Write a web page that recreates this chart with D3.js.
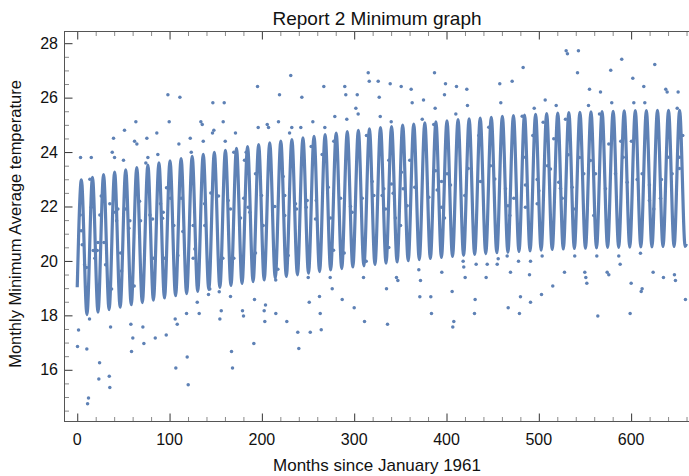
<!DOCTYPE html>
<html lang="en">

<head>
  <meta charset="utf-8">
  <title>Report 2 Minimum graph</title>
  <script src="https://d3js.org/d3.v7.min.js"></script>
  <style type="text/css">
    body { margin: 0; background: #fff; }
    text { font-family: "Liberation Sans", Arial, sans-serif; fill: #111; }
  </style>
</head>

<body>
  <script type="text/javascript">
    // fitted curve: one peak and one trough per year
    var firstPeakMonth = 4.5;
    var firstTroughMonth = 10.5;
    var cycle = 12;
    var curveStart = [0, 19.03];
    var curveEnd = [660, 20.62];

    var peakTemps = [22.98, 23.07, 23.17, 23.26, 23.35, 23.43, 23.52, 23.60, 23.68, 23.76,
      23.84, 23.92, 23.99, 24.06, 24.14, 24.20, 24.27, 24.34, 24.40, 24.46,
      24.52, 24.58, 24.64, 24.70, 24.75, 24.80, 24.85, 24.90, 24.94, 24.99,
      25.03, 25.07, 25.11, 25.15, 25.19, 25.22, 25.25, 25.28, 25.31, 25.34,
      25.36, 25.39, 25.41, 25.43, 25.45, 25.46, 25.48, 25.49, 25.50, 25.51,
      25.52, 25.52, 25.53, 25.53, 25.53];

    var troughTemps = [18.03, 18.12, 18.21, 18.30, 18.39, 18.47, 18.56, 18.64, 18.72, 18.80,
      18.88, 18.95, 19.03, 19.10, 19.17, 19.24, 19.30, 19.37, 19.43, 19.49,
      19.55, 19.61, 19.67, 19.72, 19.78, 19.82, 19.87, 19.92, 19.96, 20.01,
      20.05, 20.09, 20.13, 20.17, 20.20, 20.24, 20.27, 20.30, 20.32, 20.35,
      20.37, 20.40, 20.42, 20.44, 20.46, 20.47, 20.48, 20.50, 20.50, 20.51,
      20.52, 20.52, 20.53, 20.53, 20.53];

    // observed monthly minimum averages that show outside the fitted line [month, temp]
    var observed = [
      [3.6, 23.80], [15.2, 23.80], [98.2, 26.11], [111.2, 26.01], [146.9, 25.81], [63.5, 25.11], [99.6, 25.11], [133.9, 25.11],
      [135.4, 25.01], [51.2, 24.80], [86.2, 24.70], [148.0, 24.80], [146.5, 24.70], [39.3, 24.51], [75.4, 24.51], [122.4, 24.51],
      [62.1, 24.40], [64.6, 24.30], [110.1, 24.30], [136.5, 24.40], [37.9, 23.99], [40.4, 23.80], [50.1, 23.70], [76.5, 23.80],
      [74.3, 23.60], [87.3, 23.91], [123.5, 23.99], [13.7, 23.00], [96.7, 22.69], [101.0, 22.30], [26.0, 22.39], [144.7, 22.50],
      [153.0, 22.39], [3.2, 21.69], [15.2, 21.97], [24.5, 21.69], [35.3, 22.10], [39.6, 21.79], [44.0, 21.91], [42.6, 21.48],
      [52.3, 21.91], [57.0, 21.48], [55.9, 21.20], [67.5, 22.19], [68.6, 21.48], [78.7, 21.69], [81.6, 21.54], [90.2, 22.10],
      [93.1, 21.79], [92.4, 21.57], [104.6, 21.30], [112.6, 22.30], [125.6, 21.30], [137.9, 22.10], [138.2, 21.30],
      [4.3, 21.11], [5.4, 20.59], [7.9, 19.86], [10.0, 19.76], [17.3, 20.38], [21.7, 20.38], [19.1, 20.10], [22.4, 20.68],
      [28.9, 20.68], [30.7, 19.86], [37.2, 18.97], [46.9, 20.29], [48.0, 19.63], [61.7, 19.08], [82.6, 20.10], [94.6, 20.10],
      [109.0, 20.20], [114.4, 21.08], [125.6, 20.10], [127.4, 20.44], [142.2, 18.77], [143.6, 18.97], [153.8, 18.87], [130.0, 18.48],
      [118.4, 18.07], [132.1, 18.07], [13.3, 17.87], [106.1, 17.87], [108.3, 17.67], [154.5, 17.87], [1.4, 17.46], [36.1, 17.57],
      [58.1, 17.67], [71.1, 17.57], [60.2, 17.17], [72.2, 16.97], [84.5, 17.17], [96.4, 17.28], [0.3, 16.86], [10.4, 16.76],
      [58.8, 16.67], [24.2, 16.26], [119.1, 16.47], [106.8, 16.07], [23.4, 15.66], [34.7, 15.76], [35.3, 15.35], [120.2, 15.45],
      [12.2, 14.96], [11.2, 14.75],
      [315.2, 26.91], [316.3, 26.60], [231.3, 26.81], [195.3, 26.41], [267.1, 26.41], [289.8, 26.41], [219.1, 26.11], [290.9, 26.11],
      [303.3, 26.11], [243.3, 26.01], [159.2, 25.81], [301.8, 25.61], [304.3, 25.40], [279.0, 25.31], [292.0, 25.21], [158.1, 25.11],
      [218.0, 25.11], [255.2, 25.11], [205.8, 25.01], [196.0, 24.90], [207.2, 24.90], [232.4, 24.90], [242.2, 24.90], [268.2, 24.90],
      [171.4, 24.70], [230.0, 24.70], [160.3, 24.40], [277.9, 24.40], [313.3, 24.61], [169.6, 23.99], [183.0, 23.99], [181.2, 23.70],
      [253.4, 24.20], [265.3, 23.91], [193.1, 23.20], [223.1, 23.10], [163.5, 22.22], [166.0, 21.91], [180.4, 22.30], [176.9, 21.58],
      [185.2, 21.97], [186.9, 21.79], [199.6, 22.40], [201.4, 21.30], [214.0, 22.00], [224.8, 22.40], [224.8, 21.67], [236.4, 22.10],
      [237.5, 21.91], [249.1, 22.22], [248.0, 21.97], [258.9, 22.22], [258.1, 21.54], [271.9, 22.71], [274.3, 21.58], [285.2, 22.30],
      [296.0, 22.00], [297.8, 21.79], [308.7, 22.30],
      [166.0, 18.69], [156.0, 18.17], [179.0, 18.17], [180.1, 17.98], [192.0, 18.58], [203.9, 18.38], [202.5, 18.17], [203.2, 17.77],
      [215.1, 18.07], [227.0, 17.77], [238.9, 17.38], [251.3, 18.48], [252.4, 17.38], [262.4, 18.69], [263.2, 18.07], [264.3, 17.47],
      [276.2, 18.98], [287.0, 18.58], [300.0, 18.28], [311.2, 17.77], [310.1, 19.39], [250.2, 19.39], [274.0, 19.39], [191.3, 16.97],
      [167.1, 16.67], [168.2, 16.07], [240.0, 16.78], [215.0, 19.30], [217.3, 19.69], [157.7, 20.10], [169.6, 20.10], [193.1, 20.29],
      [228.5, 20.20], [277.6, 20.39], [289.2, 20.29], [313.0, 19.99],
      [387.0, 26.91], [483.0, 27.11], [326.0, 26.60], [339.0, 26.51], [350.9, 26.41], [361.7, 26.31], [398.9, 26.51], [410.8, 26.41],
      [422.0, 26.31], [457.7, 26.51], [471.1, 26.60], [327.1, 26.01], [397.8, 26.11], [362.8, 25.81], [375.1, 25.91], [458.8, 25.81],
      [387.7, 25.61], [422.7, 25.71], [328.2, 25.31], [410.1, 25.40], [340.1, 25.11], [373.7, 25.21], [386.2, 25.01], [482.0, 25.32],
      [435.0, 24.61], [445.8, 24.91], [360.2, 23.70], [483.7, 23.81], [337.5, 23.70], [423.5, 23.40], [447.6, 23.50], [388.1, 23.31],
      [351.2, 23.26], [340.4, 22.83], [400.7, 23.20], [452.3, 23.01], [319.5, 22.92], [332.1, 22.65], [353.1, 22.65], [365.6, 22.71],
      [389.9, 22.61], [394.6, 22.92], [404.3, 22.79], [436.8, 22.92], [463.9, 22.65], [485.5, 22.79], [321.3, 22.40], [330.3, 22.40],
      [342.2, 22.49], [380.8, 22.34], [419.8, 22.40], [472.9, 22.30], [333.9, 21.91], [357.4, 22.03], [394.6, 21.97], [466.6, 22.03],
      [344.7, 21.58], [397.8, 21.58], [350.2, 21.30], [468.6, 21.67],
      [335.0, 18.98], [345.8, 19.39], [347.3, 19.28], [370.0, 19.68], [371.8, 19.28], [371.1, 18.68], [383.0, 18.68], [383.7, 18.07],
      [394.9, 19.58], [406.1, 18.88], [407.9, 17.77], [406.8, 17.57], [336.1, 17.67], [418.0, 19.99], [418.7, 19.78], [420.2, 19.39],
      [431.0, 18.58], [430.3, 18.07], [432.1, 19.88], [442.9, 19.39], [444.1, 19.88], [454.9, 19.88], [456.0, 20.08], [465.7, 20.18],
      [469.3, 19.58], [466.8, 18.28], [478.0, 19.99], [480.1, 18.68], [479.0, 18.07], [489.9, 19.49], [491.0, 18.48], [337.5, 20.49],
      [529.6, 27.72], [531.0, 27.61], [542.9, 27.72], [589.8, 27.41], [625.6, 27.22], [577.9, 27.01], [541.9, 26.91], [601.8, 26.71],
      [613.7, 26.41], [554.9, 26.31], [566.8, 26.21], [637.5, 26.31], [639.0, 26.21], [650.9, 26.21], [506.9, 25.91], [495.0, 25.61],
      [518.8, 25.71], [553.8, 25.71], [579.0, 25.81], [602.9, 25.81], [614.8, 25.81], [649.9, 25.61], [528.9, 25.21], [565.7, 25.40],
      [504.7, 25.10], [493.5, 24.61], [516.2, 24.49], [575.8, 24.30], [588.8, 24.40], [600.3, 24.40], [655.9, 24.61], [531.8, 23.90],
      [544.0, 23.80], [555.9, 23.69], [591.4, 23.81], [640.1, 23.81], [652.3, 23.81], [509.4, 23.50], [512.6, 23.38], [498.2, 22.99],
      [500.0, 22.58], [521.6, 22.89], [523.4, 22.67], [536.1, 22.71], [548.7, 23.20], [561.4, 23.20], [572.2, 22.65], [583.0, 23.20],
      [595.7, 22.89], [606.5, 22.99], [611.9, 23.20], [619.8, 22.79], [632.8, 22.99], [644.4, 23.20], [652.3, 23.40], [485.5, 21.97],
      [498.2, 22.10], [525.3, 22.30], [537.9, 21.91], [559.5, 21.67], [619.8, 22.22], [624.5, 21.91], [631.8, 22.30],
      [491.0, 19.99], [502.9, 18.77], [503.6, 20.18], [515.1, 19.08], [527.8, 19.58], [538.9, 20.18], [549.8, 19.58], [550.9, 19.39],
      [552.0, 19.18], [562.8, 20.18], [563.9, 17.98], [574.0, 19.58], [575.8, 19.49], [586.6, 20.18], [588.1, 19.88], [598.9, 18.07],
      [600.0, 19.18], [610.1, 20.28], [610.9, 18.88], [611.9, 18.98], [623.8, 19.58], [635.0, 19.39], [646.9, 19.49], [648.0, 19.28],
      [658.8, 18.58]
    ];

    var xMajor = [0, 100, 200, 300, 400, 500, 600];
    var yMajor = [16, 18, 20, 22, 24, 26, 28];

    var w = 689;
    var h = 476;
    var frame = { left: 64.5, right: 690.5, top: 31.5, bottom: 421.5 };
    var blue = "#5e81b5";

    var svg = d3.select("body")
      .append("svg")
      .attr("width", w)
      .attr("height", h);

    var x = d3.scaleLinear().domain([-13.8, 664.3]).range([frame.left, frame.right]);
    var y = d3.scaleLinear().domain([14.1, 28.43]).range([frame.bottom, frame.top]);

    svg.append("clipPath").attr("id", "plotclip")
      .append("rect")
      .attr("x", frame.left).attr("y", frame.top)
      .attr("width", frame.right - frame.left).attr("height", frame.bottom - frame.top);

    // build curve vertices from the extremes
    var curvePts = [curveStart];
    peakTemps.forEach(function (p, i) {
      curvePts.push([firstPeakMonth + cycle * i, p]);
      curvePts.push([firstTroughMonth + cycle * i, troughTemps[i]]);
    });
    curvePts.push(curveEnd);

    var line = d3.line()
      .x(function (d) { return x(d[0]); })
      .y(function (d) { return y(d[1]); })
      .curve(d3.curveMonotoneX);

    var plot = svg.append("g").attr("clip-path", "url(#plotclip)");

    plot.append("path")
      .datum(curvePts)
      .attr("d", line)
      .attr("fill", "none")
      .attr("stroke", blue)
      .attr("stroke-width", 3.2)
      .attr("stroke-linejoin", "round");

    plot.selectAll("circle")
      .data(observed)
      .enter()
      .append("circle")
      .attr("cx", function (d) { return x(d[0]); })
      .attr("cy", function (d) { return y(d[1]); })
      .attr("r", 1.75)
      .attr("fill", blue);

    // frame axes with inward ticks (major + minor)
    var xMinor = d3.range(-0, 680, 20).filter(function (v) { return xMajor.indexOf(v) < 0; });
    var yMinor = d3.range(14.5, 28.5, 0.5).filter(function (v) { return yMajor.indexOf(v) < 0; });

    function frameAxis(axis, pos, size, vals, color) {
      var g = svg.append("g").attr("transform", pos);
      g.call(axis.tickValues(vals).tickSize(size).tickSizeOuter(0).tickFormat(""));
      g.select(".domain").remove();
      g.selectAll("line").attr("stroke", color).attr("stroke-width", 1);
      return g;
    }

    frameAxis(d3.axisBottom(x), "translate(0," + frame.bottom + ")", -4.5, xMinor, "#8a8a8a");
    frameAxis(d3.axisTop(x), "translate(0," + frame.top + ")", -4.5, xMinor, "#8a8a8a");
    frameAxis(d3.axisLeft(y), "translate(" + frame.left + ",0)", -4.5, yMinor, "#8a8a8a");
    frameAxis(d3.axisBottom(x), "translate(0," + frame.bottom + ")", -8, xMajor, "#333");
    frameAxis(d3.axisTop(x), "translate(0," + frame.top + ")", -8, xMajor, "#333");
    frameAxis(d3.axisLeft(y), "translate(" + frame.left + ",0)", -8, yMajor, "#333");

    svg.append("rect")
      .attr("x", frame.left).attr("y", frame.top)
      .attr("width", frame.right - frame.left).attr("height", frame.bottom - frame.top)
      .attr("fill", "none")
      .attr("stroke", "#555")
      .attr("stroke-width", 1);

    // tick labels
    svg.append("g").selectAll("text")
      .data(xMajor).enter().append("text")
      .attr("x", function (d) { return x(d); })
      .attr("y", 444.5)
      .attr("text-anchor", "middle")
      .style("font-size", "16px")
      .text(function (d) { return d; });

    svg.append("g").selectAll("text")
      .data(yMajor).enter().append("text")
      .attr("x", 58)
      .attr("y", function (d) { return y(d) + 5.7; })
      .attr("text-anchor", "end")
      .style("font-size", "16px")
      .text(function (d) { return d; });

    svg.append("text")
      .attr("x", 377).attr("y", 25)
      .attr("text-anchor", "middle")
      .style("font-size", "19px")
      .text("Report 2 Minimum graph");

    svg.append("text")
      .attr("x", 377).attr("y", 471)
      .attr("text-anchor", "middle")
      .style("font-size", "17px")
      .text("Months since January 1961");

    svg.append("text")
      .attr("transform", "translate(21,224) rotate(-90)")
      .attr("text-anchor", "middle")
      .style("font-size", "16.5px")
      .text("Monthly Minimum Average temperature");
  </script>
</body>

</html>
